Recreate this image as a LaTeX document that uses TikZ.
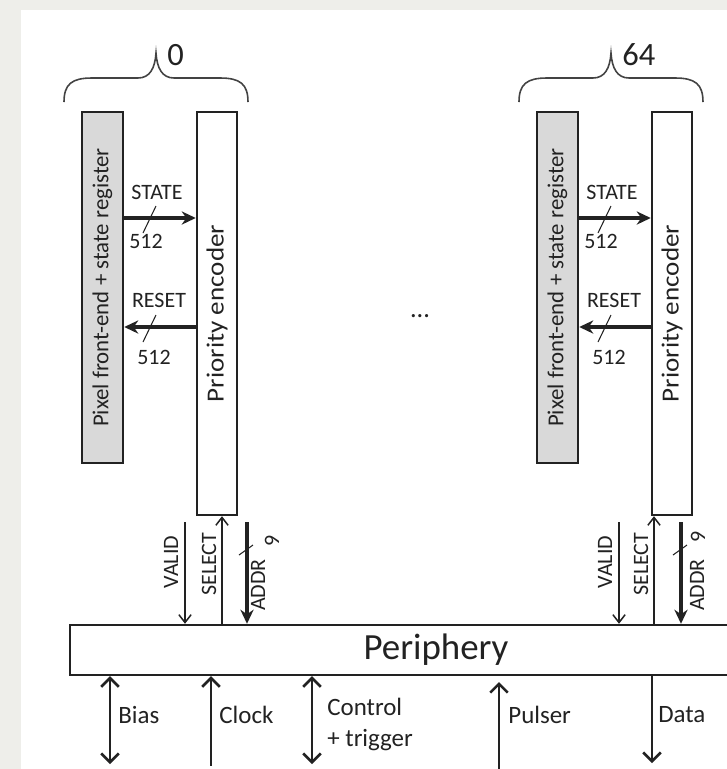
\documentclass[tikz,border=0pt]{standalone}
\usepackage{fontspec}
\setmainfont{Carlito}
\newfontfamily\tallfont[FakeStretch=1.1]{Carlito}
\usetikzlibrary{arrows.meta}
\definecolor{panel}{HTML}{EEEEEA}
\definecolor{ink}{HTML}{222222}
\definecolor{regfill}{HTML}{D9D9D9}

\begin{document}
\begin{tikzpicture}[x=0.02cm, y=-0.02cm,
    box/.style={draw=ink, line width=1.4pt, inner sep=0pt, rotate=90, text=ink},
    lbl/.style={text=ink, inner sep=0pt, font=\fontsize{12.5}{14}\selectfont},
    iolbl/.style={text=ink, inner sep=0pt, anchor=west,
      font=\fontsize{14.2}{17}\selectfont},
    bus/.style={ink, line width=1.8pt, -{Stealth[length=8pt,width=7.5pt]}},
    sig/.style={ink, line width=0.85pt, -{Straight Barb[length=4.5pt,width=7pt]}},
    io/.style={ink, line width=1.5pt},
    tick/.style={ink, line width=0.6pt},
    brace/.style={ink!85, line width=0.9pt},
    >={Straight Barb[length=5pt,width=10pt]}]
  \useasboundingbox (0,0) rectangle (727,769);
  \clip (0,0) rectangle (727,769);
  \fill[panel] (0,0) rectangle (727,769);
  \fill[white] (21,10) rectangle (727,769);

  \node[draw=ink, line width=1.4pt, inner sep=0pt, text=ink, minimum width=14.64cm,
    minimum height=1cm, font=\fontsize{21}{24}\selectfont] (peri) at (436,650) {Periphery};

  \foreach \dx/\id/\va/\se/\ad/\ax/\nx/\ny in
      {0/0/185/222/247/258/272/541, 455/64/619/654/681/697/698/537} {
    % column pair
    \node[box, fill=regfill, minimum width=7.02cm, minimum height=0.82cm,
      font=\fontsize{13}{16}\selectfont]
      (fe\id) at (102.5+\dx,287.5) {Pixel front-end + state register};
    \node[box, minimum width=8.06cm, minimum height=0.8cm,
      font=\tallfont\fontsize{14}{16}\selectfont]
      (pe\id) at (217+\dx,313.5) {Priority encoder};
    \draw[brace] (64+\dx,102) .. controls (64+\dx,84) and (72+\dx,78) .. (92+\dx,78)
      -- (138+\dx,78) .. controls (150+\dx,78) and (155+\dx,68) .. (156+\dx,53)
      .. controls (157+\dx,68) and (162+\dx,78) .. (174+\dx,78)
      -- (220+\dx,78) .. controls (240+\dx,78) and (248+\dx,84) .. (248+\dx,102);
    \node[text=ink, inner sep=0pt, anchor=west, font=\fontsize{18.5}{20}\selectfont]
      (ix\id) at (167+\dx,55) {\id};
    % state / reset buses
    \draw[bus] (fe\id.south |- 0,218) -- (pe\id.north |- 0,218);
    \draw[tick] (143+\dx,233) -- (156+\dx,206);
    \node[lbl] (st\id) at (157+\dx,192) {STATE};
    \node[lbl] (sn\id) at (146+\dx,241) {512};
    \draw[bus] (pe\id.north |- 0,327) -- (fe\id.south |- 0,327);
    \draw[tick] (143+\dx,342) -- (156+\dx,315);
    \node[lbl] (rs\id) at (159+\dx,300) {RESET};
    \node[lbl] (rn\id) at (154+\dx,357) {512};
    % links to the periphery
    \coordinate (va\id) at (\va,522);
    \coordinate (ad\id) at (\ad,522);
    \draw[sig] (va\id) -- (peri.north -| va\id);
    \draw[sig] (peri.north -| \se,0) -- (pe\id.west -| \se,0);
    \draw[bus] (ad\id) -- (peri.north -| ad\id);
    \draw[tick] (\ad-8,555) -- (\ad+6,545);
    \node[lbl, rotate=90] (vl\id) at (\va-14,562) {VALID};
    \node[lbl, rotate=90] (sl\id) at (\se-13,564) {SELECT};
    \node[lbl, rotate=90] (al\id) at (\ax,585) {ADDR};
    \node[lbl, rotate=90] (an\id) at (\nx,\ny) {9};
  }

  \node[text=ink, font=\fontsize{15}{16}\selectfont] (dots) at (420,316) {...};

  % chip inputs and outputs
  \coordinate (bias-end) at (110,764);
  \coordinate (clock-end) at (211,766);
  \coordinate (ctrl-end) at (312,764);
  \coordinate (pulser-end) at (499,772);
  \coordinate (data-end) at (652,763);
  \draw[io, <->] (peri.south -| bias-end) -- (bias-end);
  \draw[io, <-] (peri.south -| clock-end) -- (clock-end);
  \draw[io, <->] (peri.south -| ctrl-end) -- (ctrl-end);
  \draw[io, <-] (499,682) -- (pulser-end);
  \draw[io, ->] (peri.south -| data-end) -- (data-end);
  \node[iolbl] (bias) at (118,715) {Bias};
  \node[iolbl] (clock) at (219,715) {Clock};
  \node[iolbl] (ctrl) at (327,707) {Control};
  \node[iolbl] (trig) at (327,740) {+ trigger};
  \node[iolbl] (pulser) at (508,715) {Pulser};
  \node[iolbl] (data) at (658,715) {Data};
\end{tikzpicture}
\end{document}
